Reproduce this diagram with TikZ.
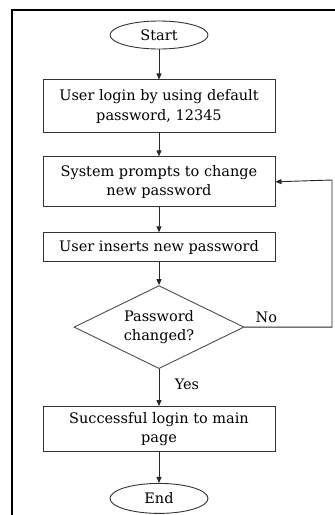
\documentclass[tikz,border=0pt]{standalone}
\usepackage{fontspec}
\setmainfont{DejaVu Serif}
\usepackage{tikz}
\usetikzlibrary{arrows.meta}
\usetikzlibrary{positioning}
\usetikzlibrary{shapes.geometric}

\begin{document}
\begin{tikzpicture}[x=1pt,y=1pt,font=\fontsize{14.5}{19.5}\selectfont]
			\tikzset{box/.style={shape=rectangle, draw=black!80, line width=0.9pt, align=center, minimum width=232pt, inner sep=2pt}}
			\tikzset{term/.style={shape=ellipse, draw=black!80, line width=0.9pt, minimum width=98pt, inner sep=1pt}}
			\tikzset{decide/.style={shape=diamond, aspect=2.05, draw=black!70, line width=0.9pt, align=center, minimum width=170pt, minimum height=83pt, inner sep=0pt}}
			\tikzset{flow/.style={draw=black!85, line width=0.9pt, -{Triangle[length=6pt,width=5pt]}}}
			\useasboundingbox (0,0) rectangle (335,-515);
			% frame of the figure
			\draw[line width=2pt] (12,-515) -- (12,-10) -- (336,-10);
			\node[term, minimum height=28pt] (start) at (159,-35) {Start};
			\node[box, minimum height=53pt, below=30pt of start] (login) {User login by using default\\password, 12345};
			\node[box, minimum height=50pt, below=23pt of login] (prompt) {System prompts to change\\new password};
			\node[box, minimum height=29pt, below=25pt of prompt] (insert) {User inserts new password};
			\node[decide, below=23pt of insert] (changed) {Password\\changed?};
			\node[box, minimum height=45pt, below=37pt of changed] (success) {Successful login to main\\page};
			\node[term, minimum height=30pt, below=31pt of success] (end) {End};
			\coordinate (loop) at (332,-180);
			\draw[flow] (start.south) -- (login.north);
			\draw[flow] (login.south) -- (prompt.north);
			\draw[flow] (prompt.south) -- (insert.north);
			\draw[flow] (insert.south) -- (changed.north);
			\draw[flow] (changed.south) -- node[right=12pt, pos=0.4] (yes) {Yes} (success.north);
			\draw[flow] (success.south) -- (end.north);
			\draw[flow] (changed.east) -- node[above=1pt, pos=0.25] (no) {No} (changed.east -| loop) -- (loop) -- (prompt.east);
		\end{tikzpicture}
\end{document}
